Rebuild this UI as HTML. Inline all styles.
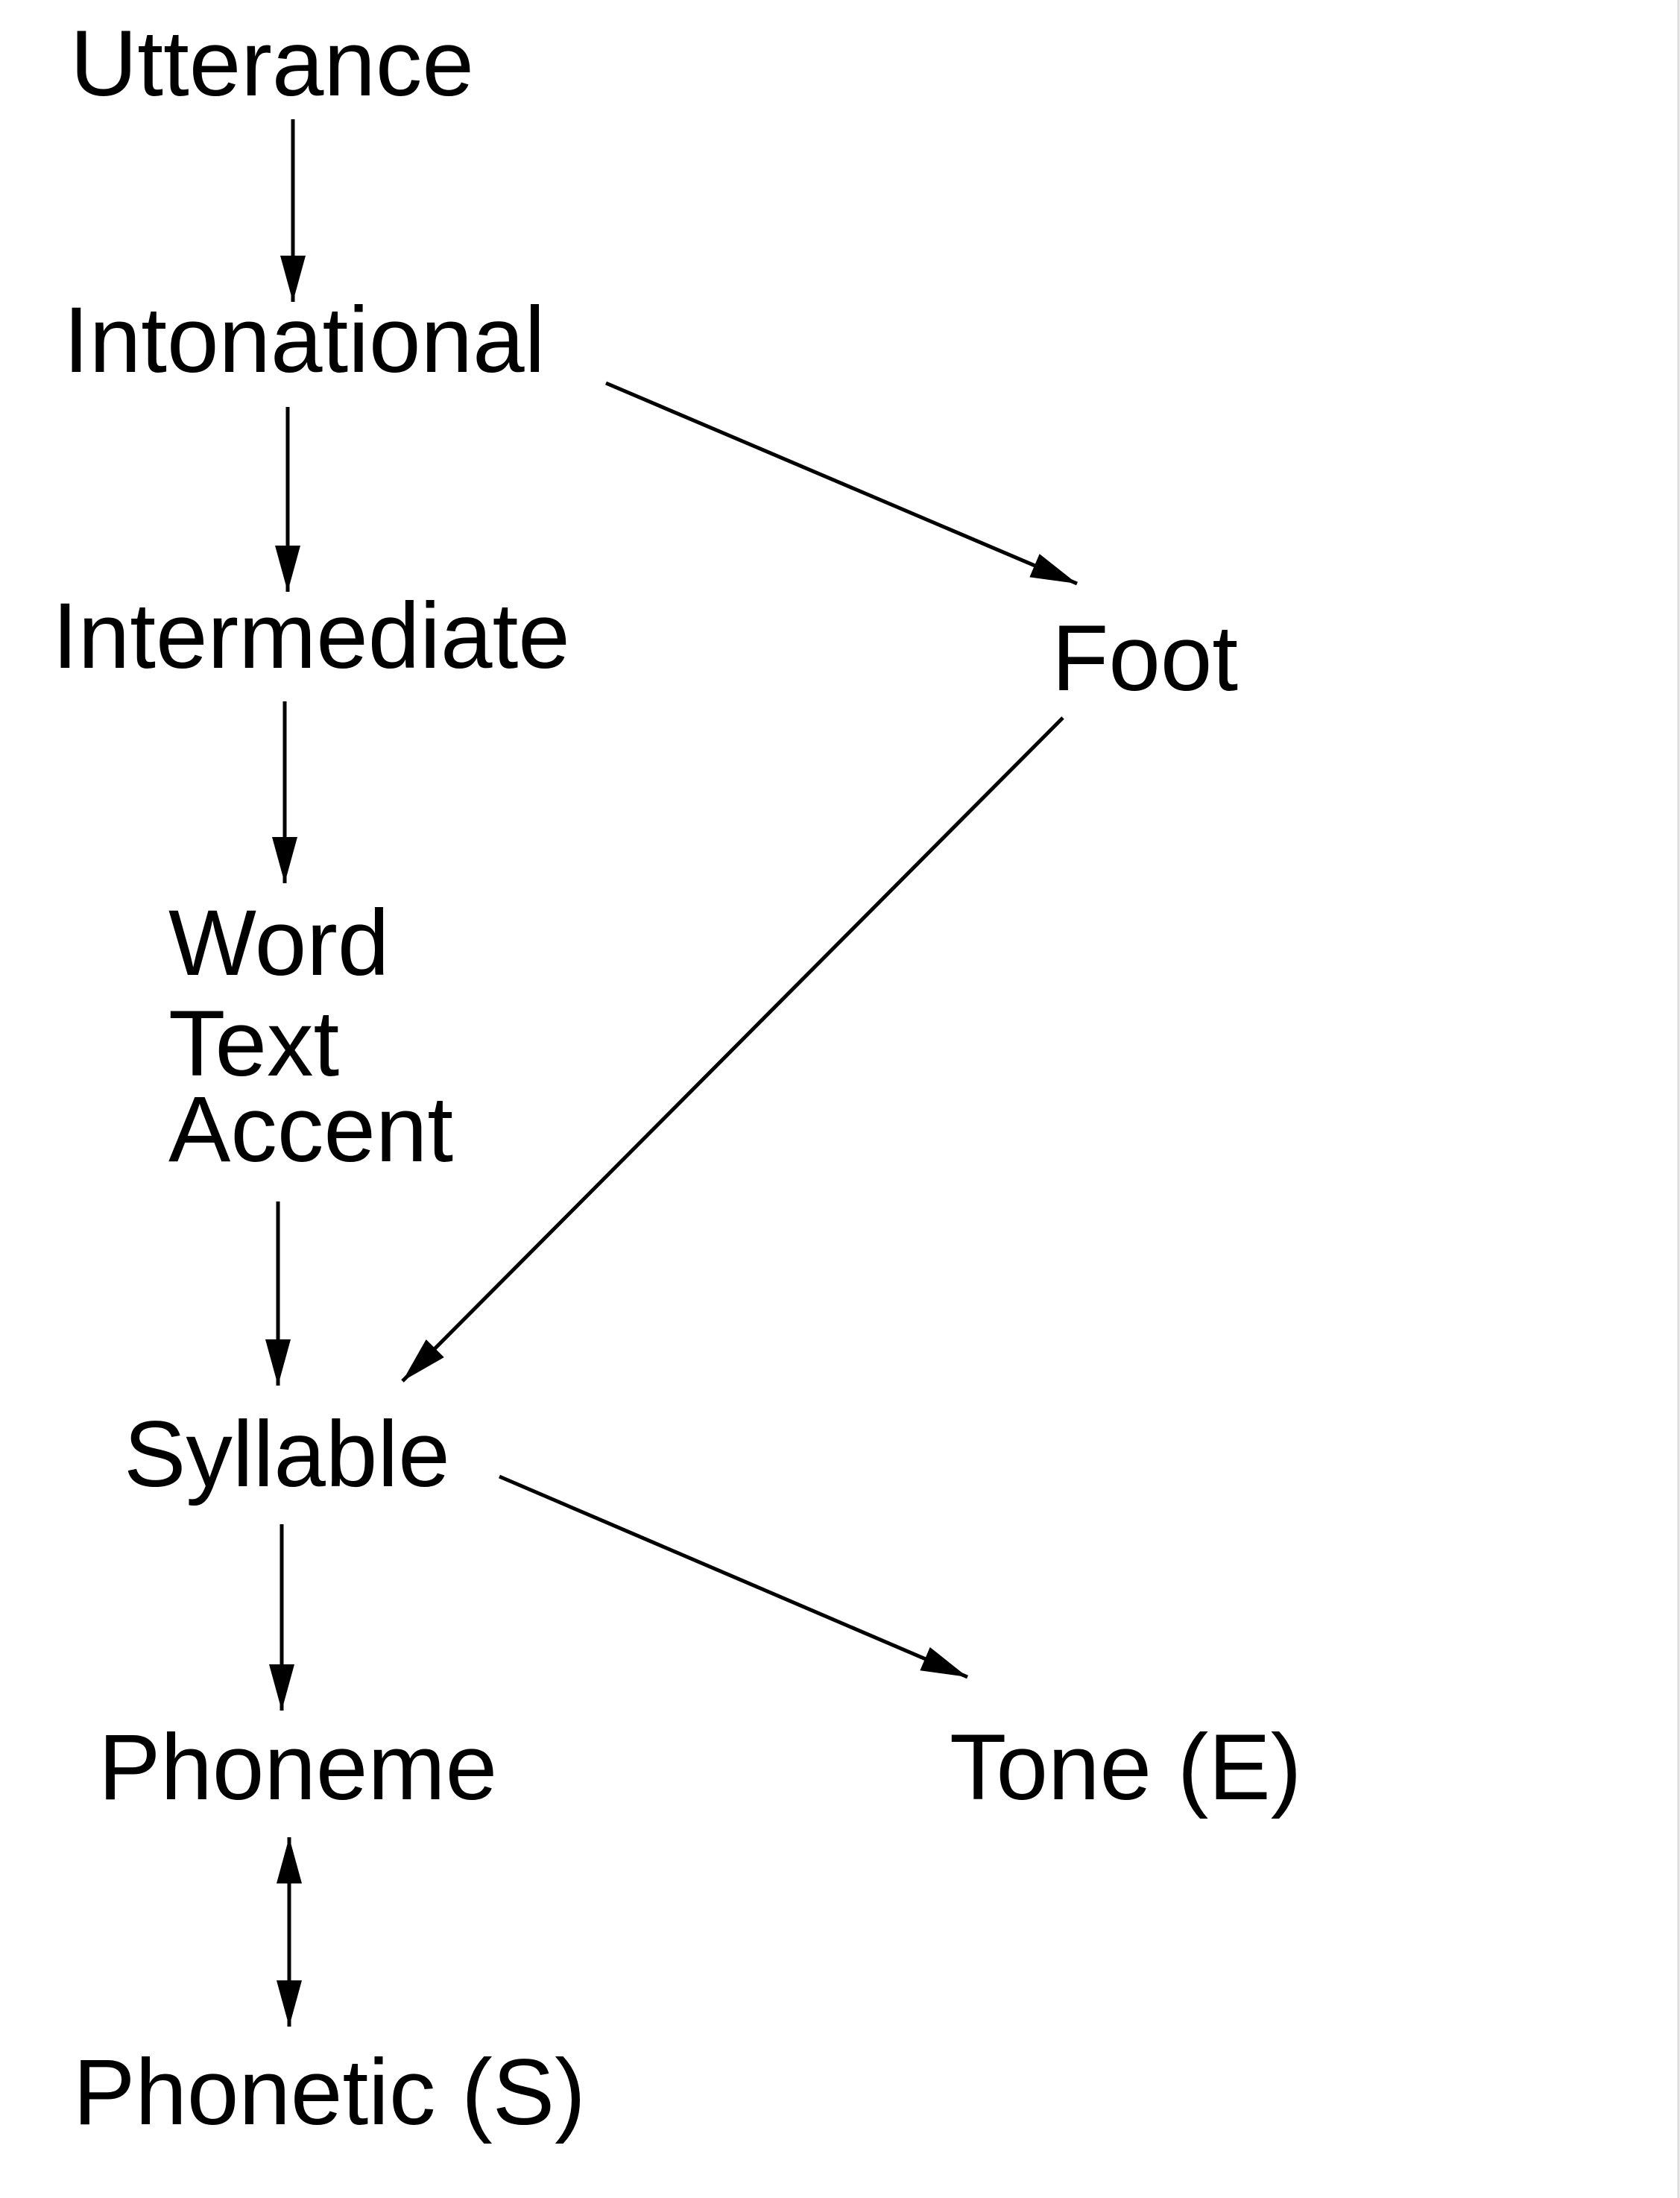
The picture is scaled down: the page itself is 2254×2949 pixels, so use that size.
<!DOCTYPE html>
<html><head><meta charset="utf-8"><style>
html,body{margin:0;padding:0;background:#fff;}
svg{display:block;}
text{font-family:"Liberation Sans",sans-serif;font-size:125px;fill:#000;}
</style></head><body>
<svg width="2254" height="2949" viewBox="0 0 2254 2949" xmlns="http://www.w3.org/2000/svg">
<defs>
<marker id="a" markerWidth="62" markerHeight="34" refX="62" refY="17" orient="auto" markerUnits="userSpaceOnUse">
<path d="M0,0 L62,17 L0,34 Z" fill="#000"/>
</marker>
<marker id="s" markerWidth="62" markerHeight="34" refX="0" refY="17" orient="auto" markerUnits="userSpaceOnUse">
<path d="M62,0 L0,17 L62,34 Z" fill="#000"/>
</marker>
</defs>
<line x1="2252" y1="0" x2="2252" y2="2949" stroke="#ddd" stroke-width="3"/>
<g stroke="#000" stroke-width="5" fill="none">
<line x1="393" y1="160" x2="393" y2="405" marker-end="url(#a)"/>
<line x1="386" y1="546" x2="386" y2="794" marker-end="url(#a)"/>
<line x1="813" y1="514" x2="1445" y2="783" marker-end="url(#a)"/>
<line x1="382" y1="941" x2="382" y2="1185" marker-end="url(#a)"/>
<line x1="1426" y1="963" x2="540" y2="1853" marker-end="url(#a)"/>
<line x1="373" y1="1612" x2="373" y2="1859" marker-end="url(#a)"/>
<line x1="670" y1="1981" x2="1298" y2="2250" marker-end="url(#a)"/>
<line x1="378" y1="2045" x2="378" y2="2295" marker-end="url(#a)"/>
<line x1="388" y1="2465" x2="388" y2="2719" marker-start="url(#s)" marker-end="url(#a)"/>
</g>
<text x="94" y="128">Utterance</text>
<text x="85" y="499">Intonational</text>
<text x="70" y="896">Intermediate</text>
<text x="1411" y="926">Foot</text>
<text x="226" y="1308">Word</text>
<text x="226" y="1443">Text</text>
<text x="226" y="1558">Accent</text>
<text x="166" y="1994">Syllable</text>
<text x="132" y="2414">Phoneme</text>
<text x="1274" y="2414">Tone (E)</text>
<text x="98" y="2850">Phonetic (S)</text>
</svg>
</body></html>
